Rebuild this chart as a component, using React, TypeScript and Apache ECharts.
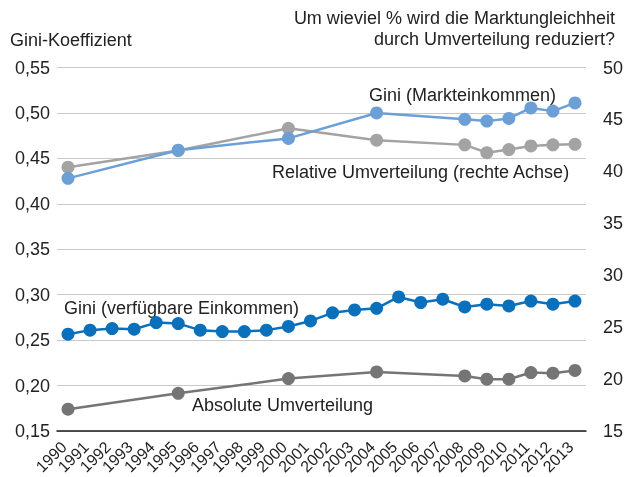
import React, { useEffect, useRef } from "react";
import * as echarts from "echarts";

const years = ["1990","1991","1992","1993","1994","1995","1996","1997","1998","1999","2000","2001","2002","2003","2004","2005","2006","2007","2008","2009","2010","2011","2012","2013"];

const giniMarkt = [0.428,null,null,null,null,0.459,null,null,null,null,0.472,null,null,null,0.5,null,null,null,0.493,0.491,0.494,0.5055,0.502,0.511];
const relativeUmv = [40.4,null,null,null,null,42.0,null,null,null,null,44.15,null,null,null,43.0,null,null,null,42.55,41.8,42.1,42.45,42.55,42.6];
const giniVerf = [0.2565,0.261,0.2627,0.262,0.2693,0.2682,0.261,0.2594,0.2594,0.261,0.265,0.2711,0.28,0.2832,0.285,0.2975,0.2914,0.295,0.2865,0.2895,0.2876,0.293,0.2895,0.293];
const absoluteUmv = [0.174,null,null,null,null,0.1915,null,null,null,null,0.2077,null,null,null,0.215,null,null,null,0.2106,0.207,0.207,0.2143,0.2136,0.2167];

const leftTitle = "Gini-Koeffizient";
const rightTitle1 = "Um wieviel % wird die Marktungleichheit";
const rightTitle2 = "durch Umverteilung reduziert?";

const FONT = "'Liberation Sans', Arial, Helvetica, sans-serif";
const TXT = "#222222";
const FS = 18;

export default function App() {
  const ref = useRef<HTMLDivElement>(null);
  useEffect(() => {
    if (!ref.current) return;
    const chart = echarts.init(ref.current, null, { renderer: "svg" });
    const mkSeries = (name: string, data: any[], color: string, yAxisIndex = 0) => ({
      name,
      type: "line",
      data,
      yAxisIndex,
      connectNulls: true,
      symbol: "circle",
      symbolSize: 13,
      showSymbol: true,
      lineStyle: { color, width: 2.5 },
      itemStyle: { color },
      emphasis: { disabled: true },
    });
    const txt = (x: number, y: number, text: string, align = "left") => ({
      type: "text",
      x,
      y,
      style: { text, fontSize: FS, fill: TXT, fontFamily: FONT, align, verticalAlign: "middle" },
    });
    chart.setOption({
      animation: false,
      textStyle: { fontFamily: FONT },
      grid: { left: 57, right: 38, top: 67.5, bottom: 46, containLabel: false, outerBoundsMode: "none" },
      xAxis: {
        type: "category",
        data: years,
        boundaryGap: true,
        axisTick: { show: false },
        axisLine: { lineStyle: { color: "#1a1a1a", width: 1.5 } },
        axisLabel: { rotate: 45, interval: 0, fontSize: 16, color: TXT, fontFamily: FONT, margin: 9, padding: [0, 6, 0, 0], hideOverlap: false },
      },
      yAxis: [
        {
          type: "value",
          min: 0.15,
          max: 0.55,
          interval: 0.05,
          axisLine: { show: false },
          axisTick: { show: false },
          splitLine: { lineStyle: { color: "#c8c8c8", width: 1 } },
          axisLabel: {
            fontSize: FS,
            color: TXT,
            fontFamily: FONT,
            margin: 7,
            formatter: (v: number) => v.toFixed(2).replace(".", ","),
          },
        },
        {
          type: "value",
          min: 15,
          max: 50,
          interval: 5,
          position: "right",
          axisLine: { show: false },
          axisTick: { show: false },
          splitLine: { show: false },
          axisLabel: { fontSize: FS, color: TXT, fontFamily: FONT, margin: 17 },
        },
      ],
      series: [
        mkSeries("Absolute Umverteilung", absoluteUmv, "#757575"),
        mkSeries("Relative Umverteilung (rechte Achse)", relativeUmv, "#a3a3a3", 1),
        mkSeries("Gini (Markteinkommen)", giniMarkt, "#6b9fd6"),
        mkSeries("Gini (verfügbare Einkommen)", giniVerf, "#0a70bc"),
      ],
      graphic: [
        txt(10, 40, leftTitle),
        txt(615, 18, rightTitle1, "right"),
        txt(615, 39, rightTitle2, "right"),
        txt(369, 95, "Gini (Markteinkommen)"),
        txt(272, 172, "Relative Umverteilung (rechte Achse)"),
        txt(64, 308, "Gini (verfügbare Einkommen)"),
        txt(192, 405, "Absolute Umverteilung"),
      ],
    });
    return () => chart.dispose();
  }, []);
  return <div ref={ref} style={{ position: "fixed", left: 0, top: 0, width: 624, height: 477 }} />;
}
